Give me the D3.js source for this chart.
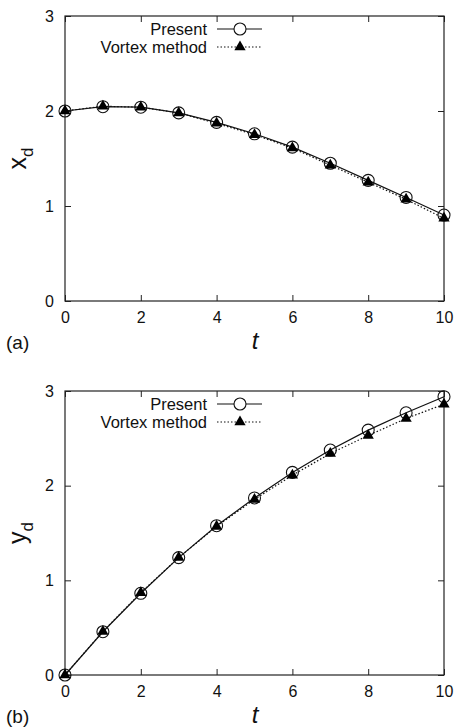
<!DOCTYPE html>
<html><head><meta charset="utf-8">
<script src="https://cdn.jsdelivr.net/npm/d3@7"></script>
<style>body{margin:0;background:#fff}svg{display:block}text{font-family:"Liberation Sans",Arial,sans-serif;fill:#111}</style>
</head><body>
<svg id="c" width="455" height="727"></svg>
<script>
const tValues = [0,1,2,3,4,5,6,7,8,9,10];
const xdPresent = [2.00,2.045,2.04,1.98,1.88,1.76,1.62,1.45,1.27,1.09,0.905];
const xdVortex  = [2.00,2.05,2.04,1.98,1.87,1.75,1.61,1.43,1.25,1.07,0.87];
const ydPresent = [0.00,0.457,0.863,1.24,1.577,1.87,2.14,2.376,2.587,2.77,2.94];
const ydVortex  = [0.00,0.46,0.87,1.24,1.57,1.855,2.11,2.34,2.53,2.71,2.86];
const xTicks = [0,2,4,6,8,10];
const yTicks = [0,1,2,3];
const legendLabels = ["Present","Vortex method"];

const svg = d3.select("#c");

function panel(top, bottom, present, vortex, ylab, tag){
  const L=65, R=444;
  const x = d3.scaleLinear().domain([0,10]).range([L,R]);
  const y = d3.scaleLinear().domain([0,3]).range([bottom,top]);
  const g = svg.append("g");
  const tk=6, fs=16;
  g.append("g").attr("transform",`translate(0,${bottom})`).call(d3.axisBottom(x).tickValues(xTicks).tickSize(-tk).tickPadding(11).tickFormat(d3.format("d"))).call(a=>{a.select(".domain").remove();a.selectAll("text").attr("font-size",fs).style("font-family","Liberation Sans");});
  g.append("g").attr("transform",`translate(0,${top})`).call(d3.axisTop(x).tickValues(xTicks).tickSize(-tk).tickFormat("")).call(a=>a.select(".domain").remove());
  g.append("g").attr("transform",`translate(${L},0)`).call(d3.axisLeft(y).tickValues(yTicks).tickSize(-tk).tickPadding(11).tickFormat(d3.format("d"))).call(a=>{a.select(".domain").remove();a.selectAll("text").attr("font-size",fs).style("font-family","Liberation Sans");});
  g.append("g").attr("transform",`translate(${R},0)`).call(d3.axisRight(y).tickValues(yTicks).tickSize(-tk).tickFormat("")).call(a=>a.select(".domain").remove());
  g.selectAll(".tick line").attr("stroke","#222");
  g.append("rect").attr("x",L).attr("y",top).attr("width",R-L).attr("height",bottom-top).attr("fill","none").attr("stroke","#222").attr("stroke-width",1.2);

  const line = d3.line().x((d,i)=>x(tValues[i])).y(d=>y(d));
  g.append("path").datum(vortex).attr("d",line).attr("fill","none").attr("stroke","#111").attr("stroke-width",1.2).attr("stroke-dasharray","1.5,2");
  g.append("path").datum(present).attr("d",line).attr("fill","none").attr("stroke","#111").attr("stroke-width",1.2);
  const tri = d3.symbol().type(d3.symbolTriangle).size(55);
  g.selectAll("circle.p").data(present).join("circle").attr("cx",(d,i)=>x(tValues[i])).attr("cy",d=>y(d)).attr("r",6).attr("fill","none").attr("stroke","#111").attr("stroke-width",1.1);
  g.selectAll("path.v").data(vortex).join("path").attr("class","v").attr("d",tri).attr("transform",(d,i)=>`translate(${x(tValues[i])},${y(d)})`).attr("fill","#000");

  // legend
  const ly1 = top+13, ly2 = top+31;
  g.append("text").attr("x",207).attr("y",ly1).attr("dy","0.35em").attr("text-anchor","end").attr("font-size",16.5).text(legendLabels[0]);
  g.append("text").attr("x",207).attr("y",ly2).attr("dy","0.35em").attr("text-anchor","end").attr("font-size",16.5).text(legendLabels[1]);
  g.append("line").attr("x1",217).attr("x2",262).attr("y1",ly1).attr("y2",ly1).attr("stroke","#111").attr("stroke-width",1.2);
  g.append("circle").attr("cx",240).attr("cy",ly1).attr("r",6).attr("fill","#fff").attr("stroke","#111").attr("stroke-width",1.1);
  g.append("line").attr("x1",217).attr("x2",262).attr("y1",ly2).attr("y2",ly2).attr("stroke","#111").attr("stroke-width",1.2).attr("stroke-dasharray","1.5,2");
  g.append("path").attr("d",tri).attr("transform",`translate(240,${ly2})`).attr("fill","#000");

  // axis titles
  const yt = g.append("text").attr("transform",`translate(26,${(top+bottom)/2}) rotate(-90)`).attr("text-anchor","middle").attr("font-size",25);
  yt.append("tspan").text(ylab);
  yt.append("tspan").attr("font-size",17).attr("dy",7).text("d");
  g.append("text").attr("x",255).attr("y",bottom+48).attr("text-anchor","middle").attr("font-size",24).attr("font-style","italic").text("t");
  g.append("text").attr("x",6).attr("y",bottom+48).attr("font-size",19).text(tag);
}
panel(16,301,xdPresent,xdVortex,"x","(a)");
panel(391,675,ydPresent,ydVortex,"y","(b)");
</script>
</body></html>
